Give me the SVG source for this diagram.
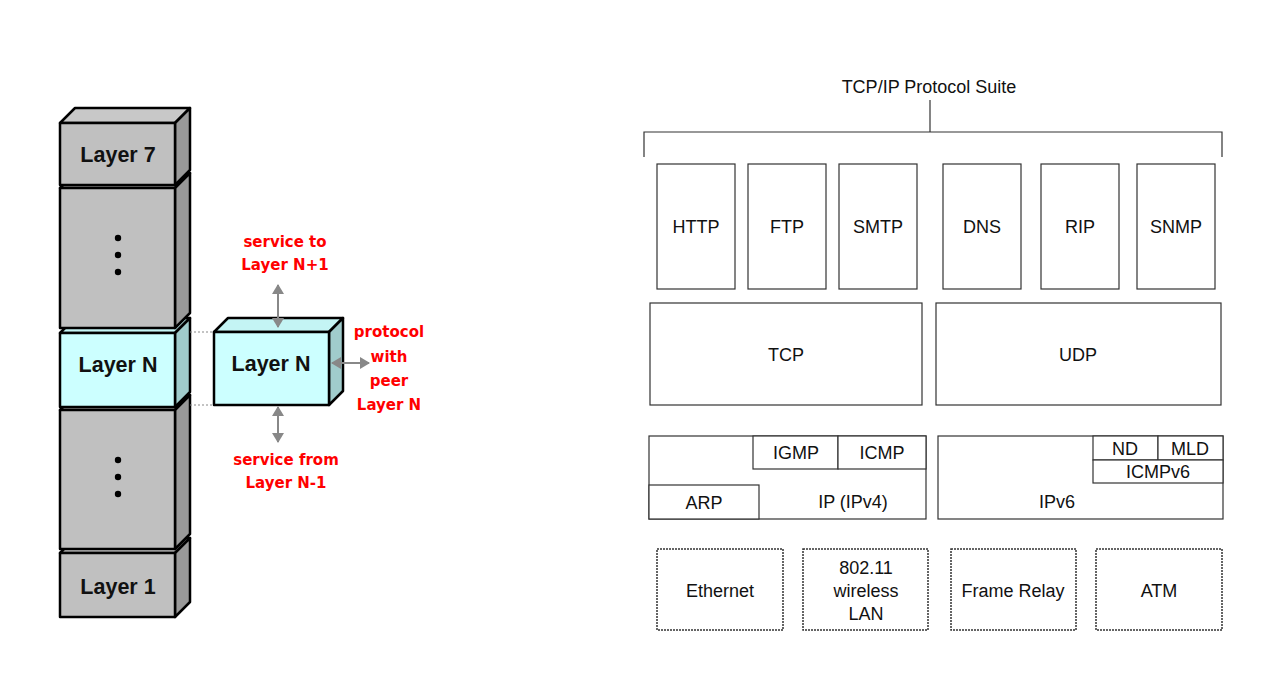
<svg xmlns="http://www.w3.org/2000/svg" width="1270" height="688" viewBox="0 0 1270 688">
<style>
.gf{fill:#c0c0c0;stroke:#000;stroke-width:2.5;stroke-linejoin:round}
.gt{fill:#c8c8c8;stroke:#000;stroke-width:2.5;stroke-linejoin:round}
.gs{fill:#999;stroke:#000;stroke-width:2.5;stroke-linejoin:round}
.cf{fill:#ccffff;stroke:#000;stroke-width:2.5;stroke-linejoin:round}
.ct{fill:#c4f4f4;stroke:#000;stroke-width:2.5;stroke-linejoin:round}
.cs{fill:#a0cccc;stroke:#000;stroke-width:2.5;stroke-linejoin:round}
.lb{font-family:"Liberation Sans",Arial,sans-serif;font-weight:bold;font-size:21.5px;fill:#111;text-anchor:middle}
.red{font-family:"DejaVu Sans",sans-serif;font-weight:bold;font-size:15px;fill:#ff0000;text-anchor:middle}
.box{fill:#fff;stroke:#333;stroke-width:1.2}
.dbox{fill:#fff;stroke:#333;stroke-width:1.5;stroke-dasharray:2 1}
.t{font-family:"Liberation Sans",Arial,sans-serif;font-size:18px;fill:#111;text-anchor:middle}
.arr{stroke:#888;stroke-width:2;fill:none;marker-start:url(#ah);marker-end:url(#ah)}
.dot{stroke:#888;stroke-width:1.2;stroke-dasharray:2 2}
</style>
<defs>
<marker id="ah" markerUnits="userSpaceOnUse" viewBox="0 0 10 12" refX="9" refY="6" markerWidth="10" markerHeight="12" orient="auto-start-reverse">
<path d="M0,0 L10,6 L0,12 Z" fill="#888"/>
</marker>
</defs>
<rect width="1270" height="688" fill="#fff"/>

<g id="stack">
<g id="layer1">
<polygon class="gt" points="60,553 75,538 190,538 175,553"/>
<polygon class="gs" points="175,553 190,538 190,602 175,617"/>
<rect class="gf" x="60" y="553" width="115" height="64"/>
<text class="lb" x="118" y="594">Layer 1</text>
</g>
<g id="lowerdots">
<polygon class="gt" points="60,410 75,395 190,395 175,410"/>
<polygon class="gs" points="175,410 190,395 190,534 175,549"/>
<rect class="gf" x="60" y="410" width="115" height="139"/>
<circle cx="118" cy="460" r="3.2" fill="#000"/>
<circle cx="118" cy="477" r="3.2" fill="#000"/>
<circle cx="118" cy="494" r="3.2" fill="#000"/>
</g>
<g id="layerN-left">
<polygon class="ct" points="60,333 75,318 190,318 175,333"/>
<polygon class="cs" points="175,333 190,318 190,392 175,407"/>
<rect class="cf" x="60" y="333" width="115" height="74"/>
<text class="lb" x="118" y="372">Layer N</text>
</g>
<g id="upperdots">
<polygon class="gt" points="60,188 75,173 190,173 175,188"/>
<polygon class="gs" points="175,188 190,173 190,313 175,328"/>
<rect class="gf" x="60" y="188" width="115" height="140"/>
<circle cx="118" cy="238" r="3.2" fill="#000"/>
<circle cx="118" cy="255" r="3.2" fill="#000"/>
<circle cx="118" cy="272" r="3.2" fill="#000"/>
</g>
<g id="layer7">
<polygon class="gt" points="60,123 75,108 190,108 175,123"/>
<polygon class="gs" points="175,123 190,108 190,170 175,185"/>
<rect class="gf" x="60" y="123" width="115" height="62"/>
<text class="lb" x="118" y="162">Layer 7</text>
</g>
</g>

<g id="layerN-right">
<polygon class="ct" points="214,332 228,318 343,318 329,332"/>
<polygon class="cs" points="329,332 343,318 343,391 329,405"/>
<rect class="cf" x="214" y="332" width="115" height="73"/>
<text class="lb" x="271" y="371">Layer N</text>
</g>

<g id="connectors">
<line class="dot" x1="190" y1="332" x2="214" y2="332"/>
<line class="dot" x1="190" y1="405" x2="214" y2="405"/>
<line class="arr" x1="278" y1="285" x2="278" y2="327"/>
<line class="arr" x1="278" y1="407" x2="278" y2="442"/>
<line class="arr" x1="332" y1="363" x2="369" y2="363"/>
<polyline points="644,157 644,132 1222,132 1222,157" fill="none" stroke="#333" stroke-width="1.2"/>
<line x1="930" y1="100" x2="930" y2="132" stroke="#333" stroke-width="1.2"/>
</g>

<g id="labels-red">
<text class="red" x="285" y="247">service to</text>
<text class="red" x="285" y="270">Layer N+1</text>
<text class="red" x="389" y="337">protocol</text>
<text class="red" x="389" y="362">with</text>
<text class="red" x="389" y="386">peer</text>
<text class="red" x="389" y="410">Layer N</text>
<text class="red" x="286" y="465">service from</text>
<text class="red" x="286" y="488">Layer N-1</text>
</g>

<g id="title"><text class="t" x="929" y="93">TCP/IP Protocol Suite</text></g>

<g id="http"><rect class="box" x="657" y="164" width="78" height="125"/><text class="t" x="696" y="233">HTTP</text></g>
<g id="ftp"><rect class="box" x="748" y="164" width="78" height="125"/><text class="t" x="787" y="233">FTP</text></g>
<g id="smtp"><rect class="box" x="839" y="164" width="78" height="125"/><text class="t" x="878" y="233">SMTP</text></g>
<g id="dns"><rect class="box" x="943" y="164" width="78" height="125"/><text class="t" x="982" y="233">DNS</text></g>
<g id="rip"><rect class="box" x="1041" y="164" width="78" height="125"/><text class="t" x="1080" y="233">RIP</text></g>
<g id="snmp"><rect class="box" x="1137" y="164" width="78" height="125"/><text class="t" x="1176" y="233">SNMP</text></g>

<g id="tcp"><rect class="box" x="650" y="303" width="272" height="102"/><text class="t" x="786" y="361">TCP</text></g>
<g id="udp"><rect class="box" x="936" y="303" width="285" height="102"/><text class="t" x="1078" y="361">UDP</text></g>

<g id="ipv4"><rect class="box" x="649" y="436" width="277" height="83"/><text class="t" x="853" y="508">IP (IPv4)</text></g>
<g id="igmp"><rect class="box" x="753" y="436" width="85" height="33"/><text class="t" x="796" y="459">IGMP</text></g>
<g id="icmp"><rect class="box" x="838" y="436" width="88" height="33"/><text class="t" x="882" y="459">ICMP</text></g>
<g id="arp"><rect class="box" x="649" y="485" width="110" height="34"/><text class="t" x="704" y="509">ARP</text></g>

<g id="ipv6"><rect class="box" x="938" y="436" width="285" height="83"/><text class="t" x="1057" y="508">IPv6</text></g>
<g id="nd"><rect class="box" x="1093" y="436" width="65" height="24"/><text class="t" x="1125" y="455">ND</text></g>
<g id="mld"><rect class="box" x="1158" y="436" width="65" height="24"/><text class="t" x="1190" y="455">MLD</text></g>
<g id="icmpv6"><rect class="box" x="1093" y="460" width="130" height="23"/><text class="t" x="1158" y="478">ICMPv6</text></g>

<g id="ethernet"><rect class="dbox" x="657" y="549" width="126" height="81"/><text class="t" x="720" y="597">Ethernet</text></g>
<g id="wlan"><rect class="dbox" x="803" y="549" width="125" height="81"/>
<text class="t" x="866" y="574">802.11</text><text class="t" x="866" y="597">wireless</text><text class="t" x="866" y="620">LAN</text></g>
<g id="framerelay"><rect class="dbox" x="951" y="549" width="125" height="81"/><text class="t" x="1013" y="597">Frame Relay</text></g>
<g id="atm"><rect class="dbox" x="1096" y="549" width="126" height="81"/><text class="t" x="1159" y="597">ATM</text></g>
</svg>
